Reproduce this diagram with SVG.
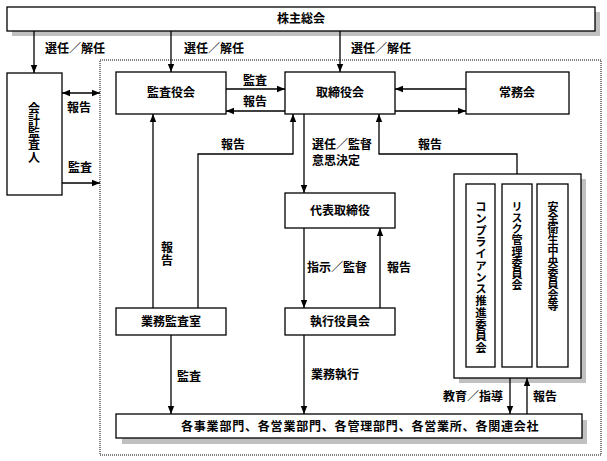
<svg xmlns="http://www.w3.org/2000/svg" width="607" height="461" viewBox="0 0 607 461">
<style>
text{font-family:"Noto Sans CJK JP","Liberation Sans",sans-serif;font-size:12px;font-weight:bold;fill:#000}
.c{text-anchor:middle}
.v{writing-mode:vertical-rl;text-orientation:upright;glyph-orientation-vertical:0}
.box{fill:#fff;stroke:#000;stroke-width:1.3}
.sh{fill:#c0c0c0}
.ln{fill:none;stroke:#000;stroke-width:1.3}
</style>
<defs>
<marker id="ah" viewBox="0 0 10 10" refX="10" refY="5" markerWidth="8" markerHeight="8" markerUnits="userSpaceOnUse" orient="auto-start-reverse"><path d="M0,1 L10,5 L0,9 z" fill="#000"/></marker>
</defs>
<rect x="100" y="60" width="501" height="395" fill="none" stroke="#000" stroke-width="1" stroke-dasharray="1,1"/>
<g id="kabunushi"><rect class="sh" x="12" y="12" width="588" height="24"/><rect class="box" x="7" y="7" width="588" height="24"/><text class="c" x="301" y="23">株主総会</text></g>
<g id="kaikei"><rect class="box" x="7" y="73" width="55" height="122"/><text class="v" x="34" y="102" style="letter-spacing:0.3px">会計監査人</text></g>
<g id="kansayaku"><rect class="box" x="116" y="72" width="110" height="42"/><text class="c" x="171" y="97">監査役会</text></g>
<g id="torishimari"><rect class="box" x="285" y="72" width="110" height="42"/><text class="c" x="340" y="97">取締役会</text></g>
<g id="jomu"><rect class="box" x="466" y="72" width="103" height="42"/><text class="c" x="517" y="97">常務会</text></g>
<g id="daihyo"><rect class="box" x="285" y="193" width="110" height="35"/><text class="c" x="340" y="215">代表取締役</text></g>
<g id="gyomukansa"><rect class="box" x="116" y="308" width="110" height="27"/><text class="c" x="171" y="326">業務監査室</text></g>
<g id="shikko"><rect class="box" x="285" y="308" width="110" height="27"/><text class="c" x="340" y="326">執行役員会</text></g>
<g id="committees"><rect class="sh" x="459" y="179" width="127" height="204"/><rect class="box" x="454" y="174" width="127" height="204"/>
<rect class="box" x="466" y="184" width="29" height="183"/>
<text class="v" x="481" y="201" style="font-size:11.5px;letter-spacing:0.25px">コンプライアンス推進委員会</text>
<rect class="box" x="502" y="184" width="30" height="183"/>
<text class="v" x="517" y="201" style="font-size:11px;letter-spacing:0.25px">リスク管理委員会</text>
<rect class="box" x="537" y="184" width="31" height="183"/>
<text class="v" x="553" y="201" style="font-size:11px">安全衛生中央委員会等</text></g>
<g id="bumon"><rect class="sh" x="122" y="420" width="465" height="24"/><rect class="box" x="116" y="414" width="466" height="24"/><text x="181" y="431" style="letter-spacing:0.8px">各事業部門、各営業部門、各管理部門、各営業所、各関連会社</text></g>
<g id="connectors">
<path class="ln" d="M34,31 V73" marker-end="url(#ah)"/>
<path class="ln" d="M171,31 V72" marker-end="url(#ah)"/>
<path class="ln" d="M340,31 V72" marker-end="url(#ah)"/>
<path class="ln" d="M62,93 H100" marker-start="url(#ah)" marker-end="url(#ah)"/>
<path class="ln" d="M62,183 H100" marker-end="url(#ah)"/>
<path class="ln" d="M226,89 H285" marker-end="url(#ah)"/>
<path class="ln" d="M285,111 H226" marker-end="url(#ah)"/>
<path class="ln" d="M466,89 H395" marker-end="url(#ah)"/>
<path class="ln" d="M395,111 H466" marker-end="url(#ah)"/>
<path class="ln" d="M198,308 V154 H293 V114" marker-end="url(#ah)"/>
<path class="ln" d="M153,308 V114" marker-end="url(#ah)"/>
<path class="ln" d="M304,114 V193" marker-end="url(#ah)"/>
<path class="ln" d="M517,174 V154 H379 V114" marker-end="url(#ah)"/>
<path class="ln" d="M304,228 V308" marker-end="url(#ah)"/>
<path class="ln" d="M380,308 V228" marker-end="url(#ah)"/>
<path class="ln" d="M171,335 V414" marker-end="url(#ah)"/>
<path class="ln" d="M304,335 V414" marker-end="url(#ah)"/>
<path class="ln" d="M510,378 V414" marker-end="url(#ah)"/>
<path class="ln" d="M527,414 V378" marker-end="url(#ah)"/>
</g>
<g id="labels">
<text x="45" y="53">選任／解任</text>
<text x="184" y="53">選任／解任</text>
<text x="351" y="53">選任／解任</text>
<text class="c" x="79" y="112">報告</text>
<text class="c" x="80" y="172">監査</text>
<text class="c" x="255" y="85">監査</text>
<text class="c" x="255" y="106">報告</text>
<text class="c" x="233" y="149">報告</text>
<text x="312" y="149">選任／監督</text>
<text x="312" y="165">意思決定</text>
<text class="c" x="430" y="149">報告</text>
<text class="v" x="167" y="241" style="letter-spacing:1px">報告</text>
<text x="307" y="272">指示／監督</text>
<text x="387" y="272">報告</text>
<text x="177" y="381">監査</text>
<text x="311" y="379">業務執行</text>
<text x="443" y="401">教育／指導</text>
<text x="533" y="401">報告</text>
</g>
</svg>
